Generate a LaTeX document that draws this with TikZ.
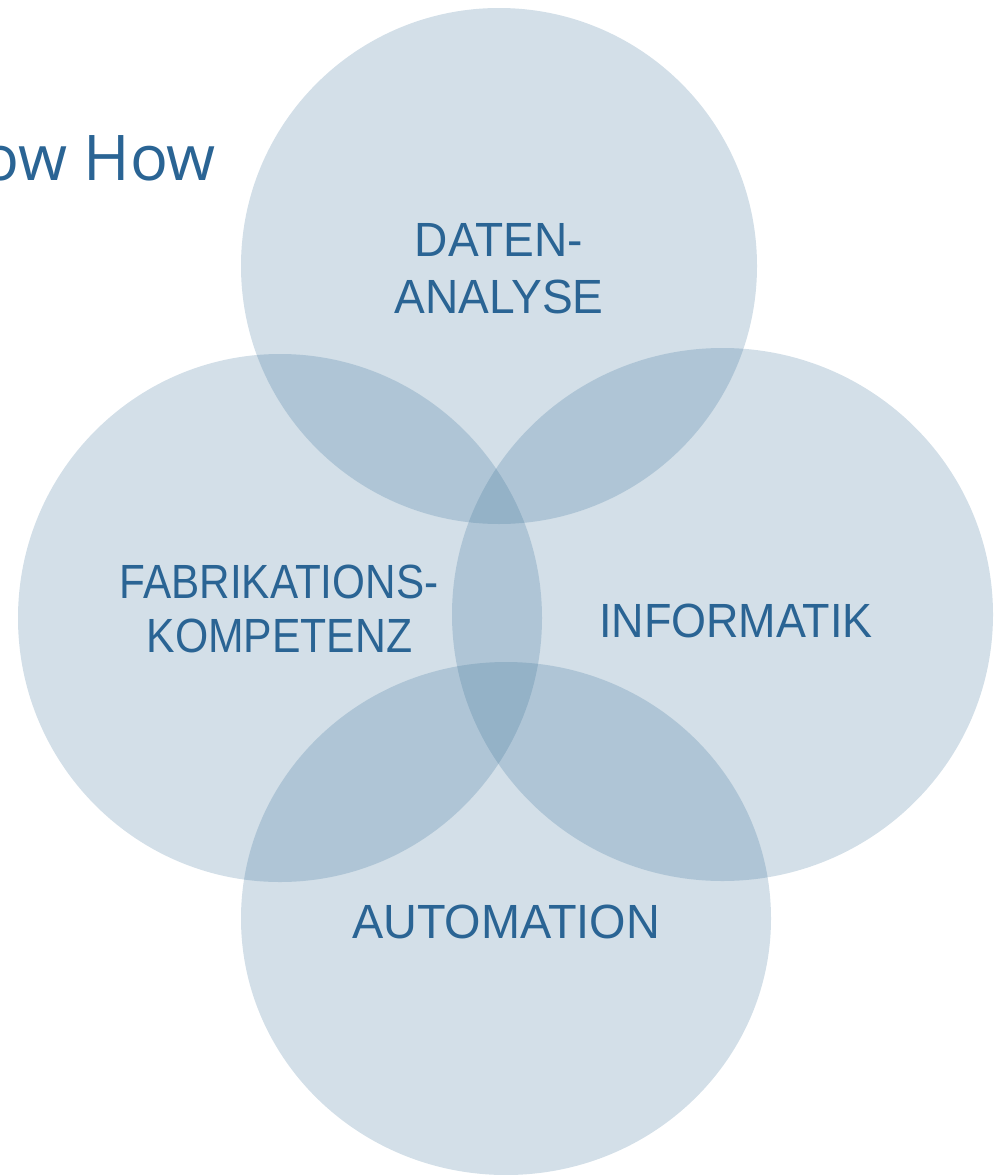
\documentclass[tikz,border=0pt]{standalone}
\usepackage{fontspec}
\setmainfont{Liberation Sans}
\newfontfamily\titlefont{Open Sans}
\definecolor{blueish}{RGB}{42,100,148}
\definecolor{circfill}{RGB}{45,103,146}
\newcommand\sx[2]{\scalebox{#1}[1]{#2}}
\begin{document}
\begin{tikzpicture}[x=1pt,y=-1pt,
  bubble/.style={fill=circfill,fill opacity=0.21,draw=none},
  lbl/.style={text=blueish,font=\fontsize{48}{58}\selectfont,inner sep=0pt,align=center},
  ttl/.style={text=blueish,font=\titlefont\fontsize{63}{70}\selectfont,inner sep=0pt}]
\useasboundingbox (0,0) rectangle (994,1175);
% circles
\fill[bubble] (499,266) ellipse [x radius=258pt, y radius=258pt];
\fill[bubble] (280,618) ellipse [x radius=262pt, y radius=264pt];
\fill[bubble] (722.5,614.5) ellipse [x radius=270.5pt, y radius=266.5pt];
\fill[bubble] (506,918.5) ellipse [x radius=265pt, y radius=256.5pt];
% title
\node[ttl,anchor=base east] (title) at (216,180) {Know How};
% labels
\node[lbl,anchor=base] (daten) at (499,256) {\sx{0.96}{DATEN-}};
\node[lbl,anchor=base] (analyse) at (499,313) {\sx{0.96}{ANALYSE}};
\node[lbl,anchor=base] (fab) at (279,598) {\sx{0.88}{FABRIKATIONS-}};
\node[lbl,anchor=base] (komp) at (279.5,652) {\sx{0.89}{KOMPETENZ}};
\node[lbl,anchor=base] (info) at (736,637) {\sx{0.936}{INFORMATIK}};
\node[lbl,anchor=base] (auto) at (506,938) {\sx{0.975}{AUTOMATION}};
\end{tikzpicture}
\end{document}
